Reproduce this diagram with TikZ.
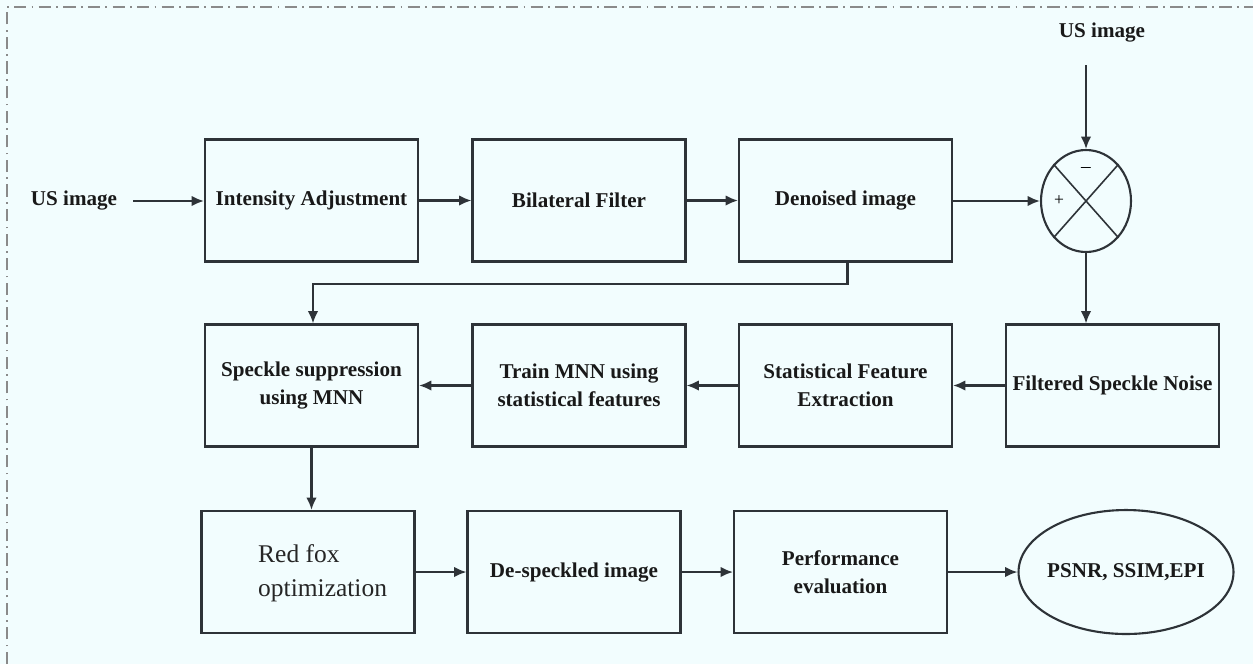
\documentclass[tikz,border=0pt]{standalone}
\usepackage{fontspec}
\setmainfont{Liberation Serif}
\usetikzlibrary{arrows.meta,shapes.geometric}
\definecolor{bgc}{HTML}{F2FDFE}
\definecolor{ln}{HTML}{2E3338}
\definecolor{bd}{HTML}{8A8A8A}
\tikzset{
  blk/.style={draw=ln, line width=1.2pt, minimum width=4.26cm, minimum height=2.44cm, align=center, font=\bfseries\fontsize{12}{16}\selectfont, text=black!90},
  lbl/.style={font=\bfseries\fontsize{12}{14.5}\selectfont, text=black!90},
  arr/.style={draw=ln, line width=1.2pt, -{Latex[length=7pt,width=6pt]}}
}
\begin{document}
\begin{tikzpicture}[x=0.02cm,y=-0.02cm]
\fill[bgc] (0,0) rectangle (1253,664);
\useasboundingbox (0,0) rectangle (1253,664);
\draw[bd, line width=0.8pt, dash pattern=on 7pt off 3pt on 1pt off 3pt] (7,664) -- (7,7) -- (1253,7);
% row 1
\node[lbl] (us1) at (74,201) {US image};
\coordinate (us1e) at (133,201);
\node[blk] (ia) at (311.5,200.5) {Intensity Adjustment};
\node[blk] (bf) at (579,200.5) {Bilateral Filter};
\node[blk] (di) at (845.5,200.5) {Denoised image};
\node[draw=ln, line width=1.2pt, ellipse, minimum width=1.8cm, minimum height=2.04cm, inner sep=0pt] (sum) at (1086,201) {};
\draw[ln, line width=0.9pt] (sum.north west) -- (sum.south east) (sum.north east) -- (sum.south west);
\node[font=\fontsize{10}{12}\selectfont] (plus) at (1059,201) {+};
\node[font=\fontsize{11}{12}\selectfont] (minus) at (1086,170) {--};
\node[lbl] (us2) at (1102,33) {US image};
\coordinate (us2s) at (1086,65);
% row 2
\node[blk] (sp) at (311.5,385.5) {Speckle suppression\\using MNN};
\node[blk] (tr) at (579,385.5) {Train MNN using\\statistical features};
\node[blk] (sf) at (845.5,385.5) {Statistical Feature\\Extraction};
\node[blk] (fs) at (1112.5,385.5) {Filtered Speckle Noise};
% row 3
\node[blk] (rf) at (308,572) {};
\node[font=\fontsize{14.5}{19.5}\selectfont, align=left, text=black!85, anchor=west] (rft) at (252,573) {Red fox\\optimization};
\node[blk] (ds) at (574,572) {De-speckled image};
\node[blk] (pe) at (840.5,572) {Performance\\evaluation};
\node[draw=ln, line width=1.2pt, ellipse, minimum width=4.3cm, minimum height=2.48cm, inner sep=0pt] (ps) at (1126,572) {};
\node[lbl] (pst) at (ps.center) {PSNR, SSIM,EPI};
% arrows
\draw[arr] (us1e) -- (us1e -| ia.west);
\draw[arr] (ia) -- (bf);
\draw[arr] (bf) -- (di);
\draw[arr] (di.east |- sum.west) -- (sum.west);
\draw[arr] (us2s) -- (sum.north);
\draw[arr] (sum.south) -- (sum.south |- fs.north);
\draw[arr] (fs) -- (sf);
\draw[arr] (sf) -- (tr);
\draw[arr] (tr) -- (sp);
\draw[arr] ([xshift=2*0.02cm]di.south) |- (313,284) -- (sp.north -| 313,0);
\draw[arr] (sp.south) -- (sp.south |- rf.north);
\draw[arr] (rf) -- (ds);
\draw[arr] (ds) -- (pe);
\draw[arr] (pe) -- (ps);
\end{tikzpicture}
\end{document}
